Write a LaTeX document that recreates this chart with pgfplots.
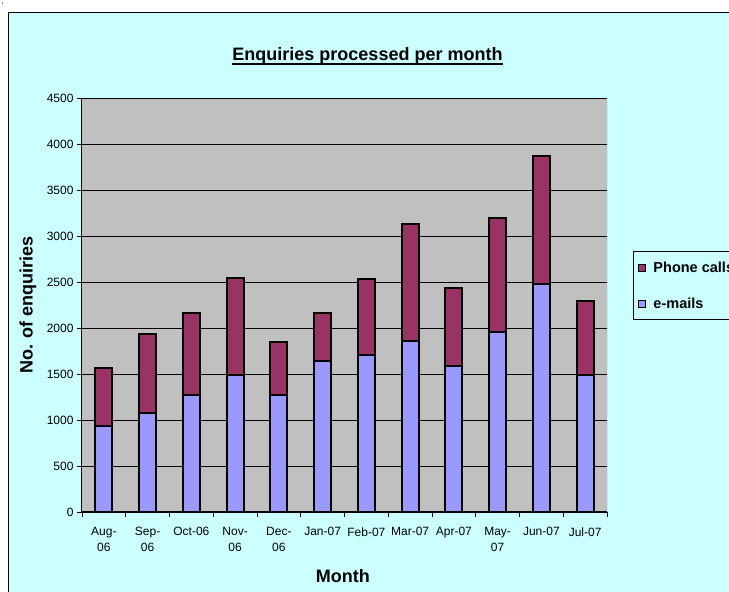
\documentclass[border=0pt]{standalone}
\usepackage{fontspec}
\setmainfont{Liberation Sans}
\usepackage{pgfplots}
\usepackage{pgfplotstable}
\pgfplotsset{compat=1.18}
\definecolor{chartbg}{HTML}{CCFFFF}
\definecolor{plotbg}{HTML}{C0C0C0}
\definecolor{emailc}{HTML}{9999FF}
\definecolor{phonec}{HTML}{993366}
\pgfplotstableread{
x email phone
0 940 625
1 1073 862
2 1272 894
3 1485 1062
4 1275 573
5 1641 525
6 1707 826
7 1859 1275
8 1588 847
9 1956 1240
10 2478 1395
11 1489 808
}\datatable
\begin{document}
\begin{tikzpicture}[x=1pt,y=1pt]
\useasboundingbox (0,0) rectangle (729,592);
\clip (0,0) rectangle (729,592);
\fill[chartbg] (8,-5) rectangle (740,579.5);
\draw[line width=1pt] (8,-5) -- (8,579.5) -- (740,579.5);
\fill[gray] (1.5,588) rectangle (3,589.5);
\coordinate (SW) at (82,80);
\begin{axis}[
  at={(SW)}, anchor=south west,
  scale only axis, width=525pt, height=414pt,
  ybar stacked, bar width=17pt,
  xmin=-0.5, xmax=11.5, ymin=0, ymax=4500,
  ytick={0,500,...,4500},
  xtick={-0.5,0.5,...,11.5},
  x tick label as interval,
  xticklabels={{Aug-\\06},{Sep-\\06},Oct-06,{Nov-\\06},{Dec-\\06},Jan-07,Feb-07,Mar-07,Apr-07,{May-\\07},Jun-07,Jul-07},
  xticklabel style={align=center, font=\fontsize{12}{16}\selectfont, yshift=-7pt},
  yticklabel style={font=\fontsize{12}{14}\selectfont},
  /pgf/number format/assume math mode=true,
  /pgf/number format/1000 sep={},
  scaled y ticks=false,
  axis lines*=left,
  tick align=outside,
  major tick length=5pt,
  tick style={black, line width=0.8pt},
  axis line style={black, line width=1pt},
  ymajorgrids, grid style={black, line width=0.8pt},
  axis background/.style={fill=plotbg},
  ylabel={No. of enquiries},
  ylabel style={at={(axis description cs:-0.103,0.5)}, anchor=center, font=\bfseries\fontsize{18}{20}\selectfont},
  xlabel={Month},
  xlabel style={at={(axis description cs:0.497,-0.1715)}, anchor=base, font=\bfseries\fontsize{18}{20}\selectfont},
  reverse legend,
  legend image code/.code={\draw[#1, line width=1pt] (0pt,-3.5pt) rectangle (7pt,3.5pt);},
  legend style={at={(rel axis cs:1.0495,0.6304)}, anchor=north west, draw=black, line width=1pt, fill=chartbg,
    font=\bfseries\fontsize{14.5}{17}\selectfont, row sep=20pt, inner xsep=5pt, inner ysep=8pt, cells={anchor=west},
    /tikz/every odd column/.append style={column sep=5pt}},
]
\addplot[fill=emailc, draw=black, line width=2pt] table[x=x,y=email]{\datatable};
\addplot[fill=phonec, draw=black, line width=2pt] table[x=x,y=phone]{\datatable};
\legend{e-mails, Phone calls}
\draw[gray, line width=1pt] (rel axis cs:1,0) -- (rel axis cs:1,1);
\end{axis}
\node[anchor=base, inner sep=0pt, font=\bfseries\fontsize{18}{20}\selectfont] (T) at (367.5,531) {Enquiries processed per month};
\draw[line width=1.8pt] ([yshift=-2.8pt]T.base west) -- ([yshift=-2.8pt]T.base east);
\end{tikzpicture}
\end{document}
